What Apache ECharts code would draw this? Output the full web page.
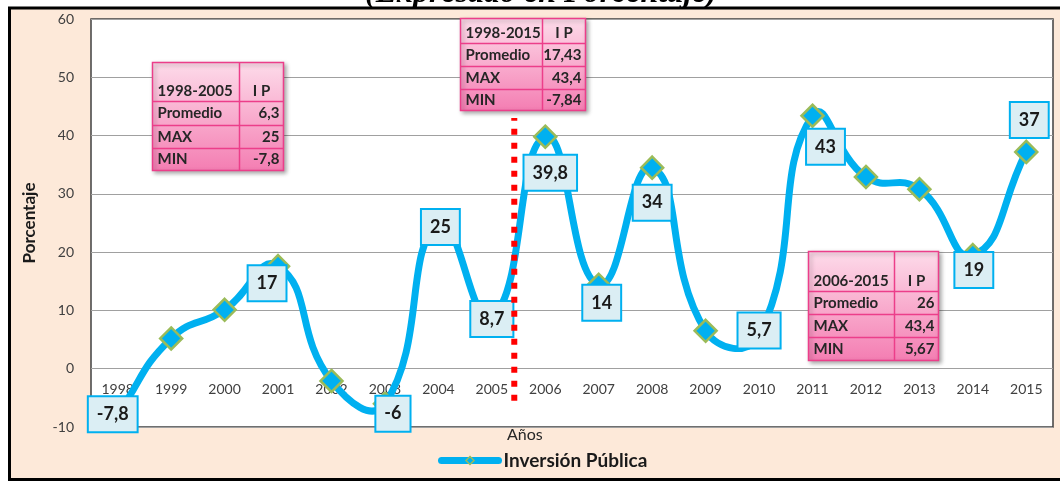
<!DOCTYPE html>
<html>
<head>
<meta charset="utf-8">
<script src="https://cdn.jsdelivr.net/npm/echarts@6/dist/echarts.min.js"></script>
<style>
  html, body { margin: 0; padding: 0; background: #fff; }
  #chart { width: 1060px; height: 481px; }
</style>
</head>
<body>
<div id="chart"></div>
<script>
const years = ['1998', '1999', '2000', '2001', '2002', '2003', '2004', '2005', '2006',
  '2007', '2008', '2009', '2010', '2011', '2012', '2013', '2014', '2015'];
const inversion = [-7.8, 5.2, 10.1, 17.6, -2.1, -6, 25, 8.7, 39.8,
  14.4, 34.5, 6.5, 5.7, 43.4, 32.9, 30.8, 19.5, 37.2];
const pointLabels = ['-7,8', '', '', '17', '', '-6', '25', '8,7', '39,8',
  '14', '34', '', '5,7', '43', '', '', '19', '37'];
const yTicks = { min: -10, max: 60, interval: 10 };

// summary tables
const table1 = [['1998-2005', 'I P'], ['Promedio', '6,3'], ['MAX', '25'], ['MIN', '-7,8']];
const table2 = [['1998-2015', 'I P'], ['Promedio', '17,43'], ['MAX', '43,4'], ['MIN', '-7,84']];
const table3 = [['2006-2015', 'I P'], ['Promedio', '26'], ['MAX', '43,4'], ['MIN', '5,67']];

// red dotted divider between 2005 and 2006
const dividerAt = 7.42;
const dividerRange = [-5.5, 43];

// label box offsets (px) relative to each point
const labelOffsets = [[-5, 0], [0, 0], [0, 0], [-11, 17], [0, 0], [8, 10], [2, 4], [0, 1], [5, 36],
  [3, 18], [0, 35], [0, 0], [0, -5], [13, 31], [0, 0], [0, 0], [1, 15], [3, -32]];

const font = "Lato";
const smoothness = 0.5;

function makeTable(left, top, colW, rowH, rows) {
  const w = colW[0] + colW[1];
  const h = rowH.reduce((a, b) => a + b, 0);
  const children = [{
    type: "rect",
    z: 100,
    shape: { x: 0, y: 0, width: w, height: h },
    style: {
      fill: new echarts.graphic.LinearGradient(0, 0, 0, 1, [
        { offset: 0, color: "#FDDCEA" },
        { offset: 1, color: "#F47DB2" },
      ]),
      stroke: "#EC3E8A",
      lineWidth: 1.5,
      shadowBlur: 4,
      shadowOffsetX: 2,
      shadowOffsetY: 2,
      shadowColor: "rgba(0,0,0,0.3)",
    },
  }];
  let y = 0;
  rows.forEach((r, i) => {
    if (i > 0) {
      children.push({
        type: "line",
        z: 101,
        shape: { x1: 0, y1: y, x2: w, y2: y },
        style: { stroke: "#EC3E8A", lineWidth: 1.5 },
      });
    }
    const ty = i === 0 ? y + rowH[i] - 10 : y + rowH[i] / 2;
    children.push({
      type: "text",
      z: 102,
      style: {
        x: 5, y: ty, text: r[0], fill: "#262626",
        font: "bold 15px " + font, verticalAlign: "middle", align: "left",
      },
    });
    children.push({
      type: "text",
      z: 102,
      style: {
        x: i === 0 ? colW[0] + colW[1] / 2 : w - 4, y: ty, text: r[1], fill: "#262626",
        font: "bold 15px " + font, verticalAlign: "middle", align: i === 0 ? "center" : "right",
      },
    });
    y += rowH[i];
  });
  children.push({
    type: "line",
    z: 101,
    shape: { x1: colW[0], y1: 0, x2: colW[0], y2: h },
    style: { stroke: "#EC3E8A", lineWidth: 1.5 },
  });
  return { type: "group", left: left, top: top, z: 100, children: children };
}

// Excel-like smooth curve (no control point clamping) through the pixel points
function smoothPath(pts) {
  const n = pts.length;
  const ctrl = pts.map((p, i) => {
    const prev = pts[Math.max(i - 1, 0)];
    const next = pts[Math.min(i + 1, n - 1)];
    const vx = next[0] - prev[0];
    const vy = next[1] - prev[1];
    const d0 = Math.hypot(p[0] - prev[0], p[1] - prev[1]);
    const d1 = Math.hypot(next[0] - p[0], next[1] - p[1]);
    const sum = d0 + d1 || 1;
    return {
      before: [p[0] - vx * smoothness * d0 / sum, p[1] - vy * smoothness * d0 / sum],
      after: [p[0] + vx * smoothness * d1 / sum, p[1] + vy * smoothness * d1 / sum],
    };
  });
  let d = "M" + pts[0][0] + " " + pts[0][1];
  for (let i = 0; i < n - 1; i++) {
    const a = ctrl[i].after, b = ctrl[i + 1].before, q = pts[i + 1];
    d += " C" + a[0] + " " + a[1] + " " + b[0] + " " + b[1] + " " + q[0] + " " + q[1];
  }
  return d;
}

const chart = echarts.init(document.getElementById("chart"), null, { renderer: "canvas" });

const option = {
  backgroundColor: "#ffffff",
  animation: false,
  grid: {
    left: 91,
    right: 7,
    top: 19,
    bottom: 54,
    show: true,
    backgroundColor: "#ffffff",
    borderColor: "#404040",
    borderWidth: 1.5,
  },
  legend: {
    data: ["Inversión Pública"],
    left: 433,
    top: 446,
    itemWidth: 57,
    itemHeight: 10,
    lineStyle: { color: "#00B0F0", width: 7, opacity: 1, cap: "round" },
    itemStyle: { color: "#00B0F0", borderColor: "#9BBB59", borderWidth: 1.5 },
    textStyle: { fontFamily: font, fontSize: 19, fontWeight: "bold", color: "#1a1a1a" },
  },
  xAxis: [
    {
      type: "category",
      data: years,
      boundaryGap: true,
      axisLine: { show: false },
      axisTick: { show: false },
      // labels sit just under the zero line, as in the original
      axisLabel: { color: "#404040", fontFamily: font, fontSize: 14, margin: -45 },
      splitLine: { show: false },
    },
    {
      type: "value",
      min: -0.5,
      max: 17.5,
      show: false,
      axisLine: { onZero: false },
    },
  ],
  yAxis: {
    type: "value",
    min: yTicks.min,
    max: yTicks.max,
    interval: yTicks.interval,
    name: "Porcentaje",
    nameLocation: "middle",
    nameGap: 53,
    nameTextStyle: { fontFamily: font, fontSize: 17, fontWeight: "bold", color: "#1a1a1a" },
    axisLine: { show: false },
    axisTick: { show: false },
    axisLabel: { color: "#404040", fontFamily: font, fontSize: 14, margin: 17 },
    splitLine: { lineStyle: { color: "#A0A0A0", width: 1 } },
  },
  series: [
    {
      name: "curve",
      type: "custom",
      z: 2,
      silent: true,
      data: inversion.map((v, i) => [i, v]),
      renderItem: (params, api) => {
        if (params.dataIndex !== 0) return null;
        const pts = inversion.map((v, i) => api.coord([i, v]));
        return {
          type: "path",
          shape: { pathData: smoothPath(pts) },
          style: { fill: "none", stroke: "#00B0F0", lineWidth: 7, lineJoin: "round" },
        };
      },
    },
    {
      name: "Inversión Pública",
      type: "line",
      data: inversion.map((v, i) => ({ value: v, label: { show: pointLabels[i] !== "" } })),
      symbol: "diamond",
      symbolSize: 22,
      showAllSymbol: true,
      z: 3,
      lineStyle: { width: 0, opacity: 0 },
      itemStyle: { color: "#00B0F0", borderColor: "#9BBB59", borderWidth: 2.5 },
      label: {
        position: "inside",
        formatter: (p) => pointLabels[p.dataIndex],
        fontFamily: font,
        fontSize: 18,
        fontWeight: "bold",
        color: "#1a1a1a",
        lineHeight: 20,
        backgroundColor: "#DBEEF4",
        borderColor: "#00B0F0",
        borderWidth: 2,
        padding: [7, 8],
      },
      labelLayout: (p) => ({ dx: labelOffsets[p.dataIndex][0], dy: labelOffsets[p.dataIndex][1] }),
    },
    {
      name: "divider",
      type: "line",
      xAxisIndex: 1,
      data: [[dividerAt, dividerRange[0]], [dividerAt, dividerRange[1]]],
      symbol: "none",
      z: 4,
      lineStyle: { color: "#FF0000", width: 6, type: [6, 8] },
      silent: true,
    },
  ],
  graphic: [
    {
      type: "text",
      left: 365,
      top: -22,
      z: -20,
      style: {
        text: "(Expresado en Porcentaje)",
        font: "italic bold 32px 'Liberation Serif'",
        fill: "#000",
      },
    },
    {
      type: "rect",
      z: -10,
      shape: { x: 9.5, y: 8, width: 1060, height: 471.5 },
      style: { fill: "#FDE9D9", stroke: "#000", lineWidth: 3 },
    },
    {
      type: "text",
      left: 507,
      top: 427,
      style: { text: "Años", font: "16px " + font, fill: "#262626" },
    },
    makeTable(150, 60, [87, 44], [39, 24, 23, 22], table1),
    makeTable(458, 16, [82, 43], [25, 23, 23, 21], table2),
    makeTable(806, 249, [86, 44], [40, 23, 23, 23], table3),
  ],
};

chart.setOption(option);
</script>
</body>
</html>
